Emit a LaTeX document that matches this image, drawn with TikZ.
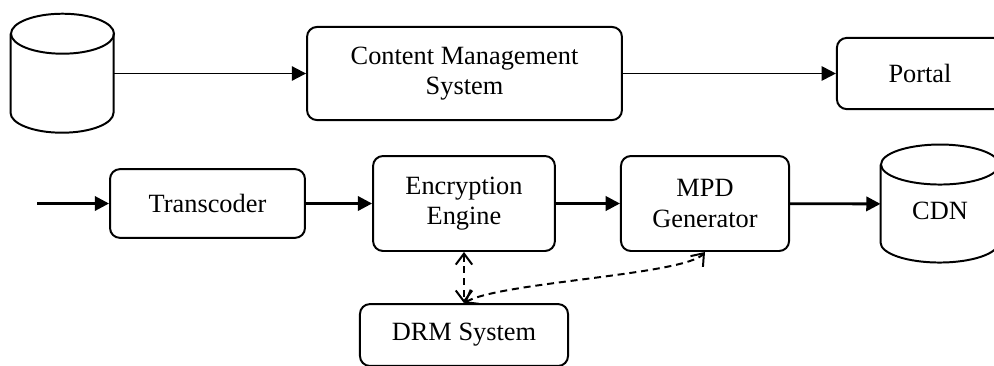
\documentclass[tikz,border=0pt]{standalone}
\usepackage{fontspec}
\setmainfont{Liberation Serif}
\usetikzlibrary{arrows.meta,shapes.geometric,positioning}

\begin{document}
\begin{tikzpicture}[x=0.016cm, y=0.016cm, font=\fontsize{12}{14}\selectfont,
                    box/.style = {draw, line width=0.9pt, rounded corners=4.5pt, align=center, inner sep=0pt},
                    store/.style = {inner sep=0pt},
                    flow/.style = {-{Triangle[length=6.5pt,width=6.5pt]}, line width=0.9pt},
                    link/.style = {{Straight Barb[length=5pt,width=7.5pt]}-{Straight Barb[length=5pt,width=7.5pt]},
                                   dash pattern=on 3.2pt off 2.2pt, line width=0.9pt}]
\clip (0,0) rectangle (994,365);
% top row
\node[store, minimum width=1.65cm, minimum height=1.9cm] (repo) at (62.5,291.5) {};
\draw[line width=0.9pt] (repo.north) ++(0,-20) ellipse [x radius=51.5, y radius=20];
\draw[line width=0.9pt] (repo.north west) ++(0,-20) -- ++(0,-79)
     arc[start angle=180, end angle=360, x radius=51.5, y radius=20] -- ++(0,79);
\node[box, minimum width=5.04cm, minimum height=1.49cm] (cms) at (464.5,291.5) {Content Management\\System};
\node[box, minimum width=2.66cm, minimum height=1.14cm] (portal) at (920,291.5) {Portal};
% bottom row
\coordinate (src) at (37,161.5);
\node[box, minimum width=3.12cm, minimum height=1.10cm] (trans) at (207.5,161.5) {Transcoder};
\node[box, minimum width=2.91cm, minimum height=1.52cm] (enc) at (464,161.5) {Encryption\\Engine};
\node[box, minimum width=2.69cm, minimum height=1.52cm] (mpd) at (705,161.5) {MPD\\Generator};
\node[store, minimum width=1.89cm, minimum height=1.89cm, text height=14.2pt, text depth=0pt] (cdn) at (940,161) {CDN};
\draw[line width=0.9pt] (cdn.north) ++(0,-20) ellipse [x radius=59, y radius=20];
\draw[line width=0.9pt] (cdn.north west) ++(0,-20) -- ++(0,-78)
     arc[start angle=180, end angle=360, x radius=59, y radius=20] -- ++(0,78);
\node[box, minimum width=3.33cm, minimum height=0.99cm] (drm) at (464,30) {DRM System};
% connectors
\draw[flow] (repo) -- (cms);
\draw[flow] (cms) -- (portal);
\draw[flow, line width=1.3pt] (src) -- (trans);
\draw[flow, line width=1.3pt] (trans) -- (enc);
\draw[flow, line width=1.3pt] (enc) -- (mpd);
\draw[flow, line width=1.3pt] (mpd) -- (cdn);
\draw[link] (enc.south) -- (drm.north);
\draw[link] (drm.north) .. controls (500,83) and (685,90) .. (mpd.south);
\end{tikzpicture}
\end{document}
